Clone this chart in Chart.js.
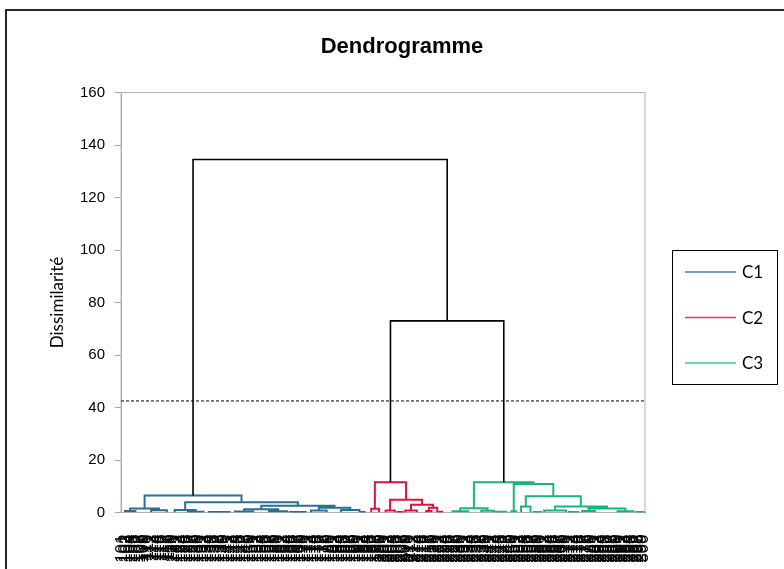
<!DOCTYPE html>
<html>
<head>
<meta charset="utf-8">
<title>Dendrogramme</title>
<script src="https://cdn.jsdelivr.net/npm/chart.js@4.4.1/dist/chart.umd.min.js"></script>
<style>
  html, body { margin: 0; padding: 0; background: #fff; overflow: hidden; }
  #wrap { position: relative; width: 784px; height: 569px; }
  #frame { position: absolute; left: 5px; top: 9px; width: 800px; height: 600px;
           border-left: 2px solid #262626; border-top: 2px solid #262626; pointer-events: none; }
  canvas { position: absolute; left: 0; top: 0; }
</style>
</head>
<body>
<div id="wrap">
  <canvas id="dendro" width="784" height="569"></canvas>
  <div id="frame"></div>
</div>
<script>
// --- data (x = leaf position, 1..200 ; y = dissimilarity) ---
const leafLabels = Array.from({ length: 200 }, (_, i) => String(101 + i));
const yTicks = [0, 20, 40, 60, 80, 100, 120, 140, 160];
const cutHeight = 42.5;
const clusterNames = ["C1", "C2", "C3"];

// links: [left x, right x, left child height, right child height, merge height]
const c1Links = [
  [9.5, 46.5, 1.5, 3.9, 6.5],
  [4, 15, 0.6, 0.9, 1.5],
  [2, 6, 0, 0, 0.6],
  [12, 18, 0, 0, 0.9],
  [25, 68, 1.0, 2.6, 3.9],
  [21, 29, 0, 0.3, 1.0],
  [26, 32, 0, 0, 0.3],
  [34, 42, 0, 0, 0.2],
  [54, 82, 1.2, 1.8, 2.6],
  [47.5, 60.5, 0.4, 0.5, 1.2],
  [44, 51, 0, 0, 0.4],
  [57, 64, 0, 0, 0.5],
  [65, 71, 0, 0, 0.2],
  [76, 88, 0.8, 1.0, 1.8],
  [73, 79, 0, 0, 0.8],
  [84.5, 91.5, 0, 0, 1.0],
  [92, 93.5, 0, 0, 0.2]
];
const c2Links = [
  [97.4, 109.3, 1.4, 4.9, 11.5],
  [96, 99, 0, 0, 1.4],
  [103.2, 115.4, 0.8, 3.0, 4.9],
  [101.5, 105, 0, 0, 0.8],
  [106, 108, 0, 0, 0.2],
  [111.2, 119.6, 0.8, 1.8, 3.0],
  [109, 113.4, 0, 0, 0.8],
  [118, 121.2, 0.6, 0, 1.8],
  [117, 119, 0, 0, 0.6],
  [122, 123, 0, 0, 0.3]
];
const c3Links = [
  [135.2, 157.95, 1.6, 10.9, 11.5],
  [130, 140.4, 0.5, 0.7, 1.6],
  [127, 133, 0, 0, 0.5],
  [138, 142.8, 0, 0, 0.7],
  [143.5, 147.5, 0, 0, 0.3],
  [150.4, 165.5, 0.5, 6.2, 10.9],
  [149.5, 151.3, 0, 0, 0.5],
  [155, 176, 2.3, 2.3, 6.2],
  [153.2, 156.8, 0, 0, 2.3],
  [158, 161, 0, 0, 0.2],
  [166.2, 186, 0.8, 1.5, 2.3],
  [162, 170.4, 0, 0, 0.8],
  [171.5, 175, 0, 0, 0.2],
  [179, 193, 0.6, 0.5, 1.5],
  [176.5, 181.5, 0, 0, 0.6],
  [190, 196, 0, 0, 0.5],
  [197, 200, 0, 0, 0.2]
];
const rootLinks = [
  [28, 125, 6.5, 73, 134.5],
  [103.35, 146.6, 11.5, 11.5, 73]
];

// --- styles ---
const clusterColors = ["#2c6f94", "#e0123f", "#17b57b"];
const legendColors = ["#4a7fa6", "#e8345e", "#3cc48e"];

function linkPoints(links) {
  const pts = [];
  links.forEach(function (l) {
    pts.push({ x: l[0], y: l[2] }, { x: l[0], y: l[4] },
             { x: l[1], y: l[4] }, { x: l[1], y: l[3] }, { x: l[1], y: null });
  });
  return pts;
}

const decor = {
  id: "decor",
  beforeDraw(chart) {
    const ctx = chart.ctx;
    ctx.save();
    ctx.fillStyle = "#fff";
    ctx.fillRect(0, 0, chart.width, chart.height);
    ctx.restore();
  },
  beforeDatasetsDraw(chart) {
    const a = chart.chartArea, ctx = chart.ctx;
    ctx.save();
    ctx.strokeStyle = "#b4b4b4";
    ctx.lineWidth = 1;
    ctx.strokeRect(a.left, a.top, a.right - a.left, a.bottom - a.top);
    ctx.restore();
  },
  afterDraw(chart) {
    const ctx = chart.ctx;
    ctx.save();
    // title
    ctx.fillStyle = "#000";
    ctx.font = 'bold 22px "Liberation Sans", Arial, sans-serif';
    ctx.textAlign = "center";
    ctx.textBaseline = "middle";
    ctx.fillText("Dendrogramme", 402, 47);
    // legend
    ctx.strokeStyle = "#000";
    ctx.lineWidth = 1;
    ctx.strokeRect(672.5, 250.5, 105, 134);
    ctx.font = '17px Lato, "Open Sans", sans-serif';
    ctx.textAlign = "left";
    clusterNames.forEach(function (name, i) {
      const y = 272 + i * 45.5;
      ctx.strokeStyle = legendColors[i];
      ctx.lineWidth = 1.5;
      ctx.beginPath();
      ctx.moveTo(685, y);
      ctx.lineTo(736, y);
      ctx.stroke();
      ctx.fillStyle = "#000";
      ctx.fillText(name, 742, y + 1);
    });
    ctx.restore();
  }
};

const ctx = document.getElementById("dendro");
new Chart(ctx, {
  type: "line",
  data: {
    datasets: [
      { label: "root", data: linkPoints(rootLinks), borderColor: "#000", borderWidth: 1.6 },
      { label: clusterNames[0], data: linkPoints(c1Links), borderColor: clusterColors[0], borderWidth: 2 },
      { label: clusterNames[1], data: linkPoints(c2Links), borderColor: clusterColors[1], borderWidth: 2 },
      { label: clusterNames[2], data: linkPoints(c3Links), borderColor: clusterColors[2], borderWidth: 2 },
      {
        label: "cut",
        data: [{ x: 0.5, y: cutHeight }, { x: leafLabels.length + 0.5, y: cutHeight }],
        borderColor: "#000", borderWidth: 1, borderDash: [3, 2]
      }
    ]
  },
  options: {
    responsive: false,
    animation: false,
    spanGaps: false,
    elements: { point: { radius: 0 }, line: { tension: 0, fill: false } },
    layout: { padding: { left: 44, right: 139, top: 92.5, bottom: 0 } },
    plugins: { legend: { display: false }, title: { display: false }, tooltip: { enabled: false } },
    scales: {
      x: {
        type: "linear",
        min: 0.5,
        max: leafLabels.length + 0.5,
        afterBuildTicks: function (scale) {
          scale.ticks = leafLabels.map(function (_, i) { return { value: i + 1 }; });
        },
        afterFit: function (scale) { scale.height = 56.5; },
        ticks: {
          autoSkip: false,
          minRotation: 90,
          maxRotation: 90,
          padding: 14,
          color: "#000",
          font: { family: '"Liberation Sans", Arial', size: 17 },
          callback: function (value, index) { return leafLabels[index]; }
        },
        grid: { display: false },
        border: { color: "#666", width: 1 }
      },
      y: {
        min: 0,
        max: 160,
        afterBuildTicks: function (scale) {
          scale.ticks = yTicks.map(function (v) { return { value: v }; });
        },
        afterFit: function (scale) { scale.width = 121 - 44; },
        ticks: {
          padding: 10,
          color: "#000",
          font: { family: '"Liberation Sans", Arial', size: 15 }
        },
        grid: { drawOnChartArea: false, drawTicks: true, tickLength: 6, color: "#a8a8a8" },
        border: { color: "#a8a8a8", width: 1 },
        title: {
          display: true,
          text: "Dissimilarité",
          color: "#000",
          padding: { top: 3, bottom: 0 },
          font: { family: 'Lato, "Open Sans", sans-serif', size: 17 }
        }
      }
    }
  },
  plugins: [decor]
});
</script>
</body>
</html>
